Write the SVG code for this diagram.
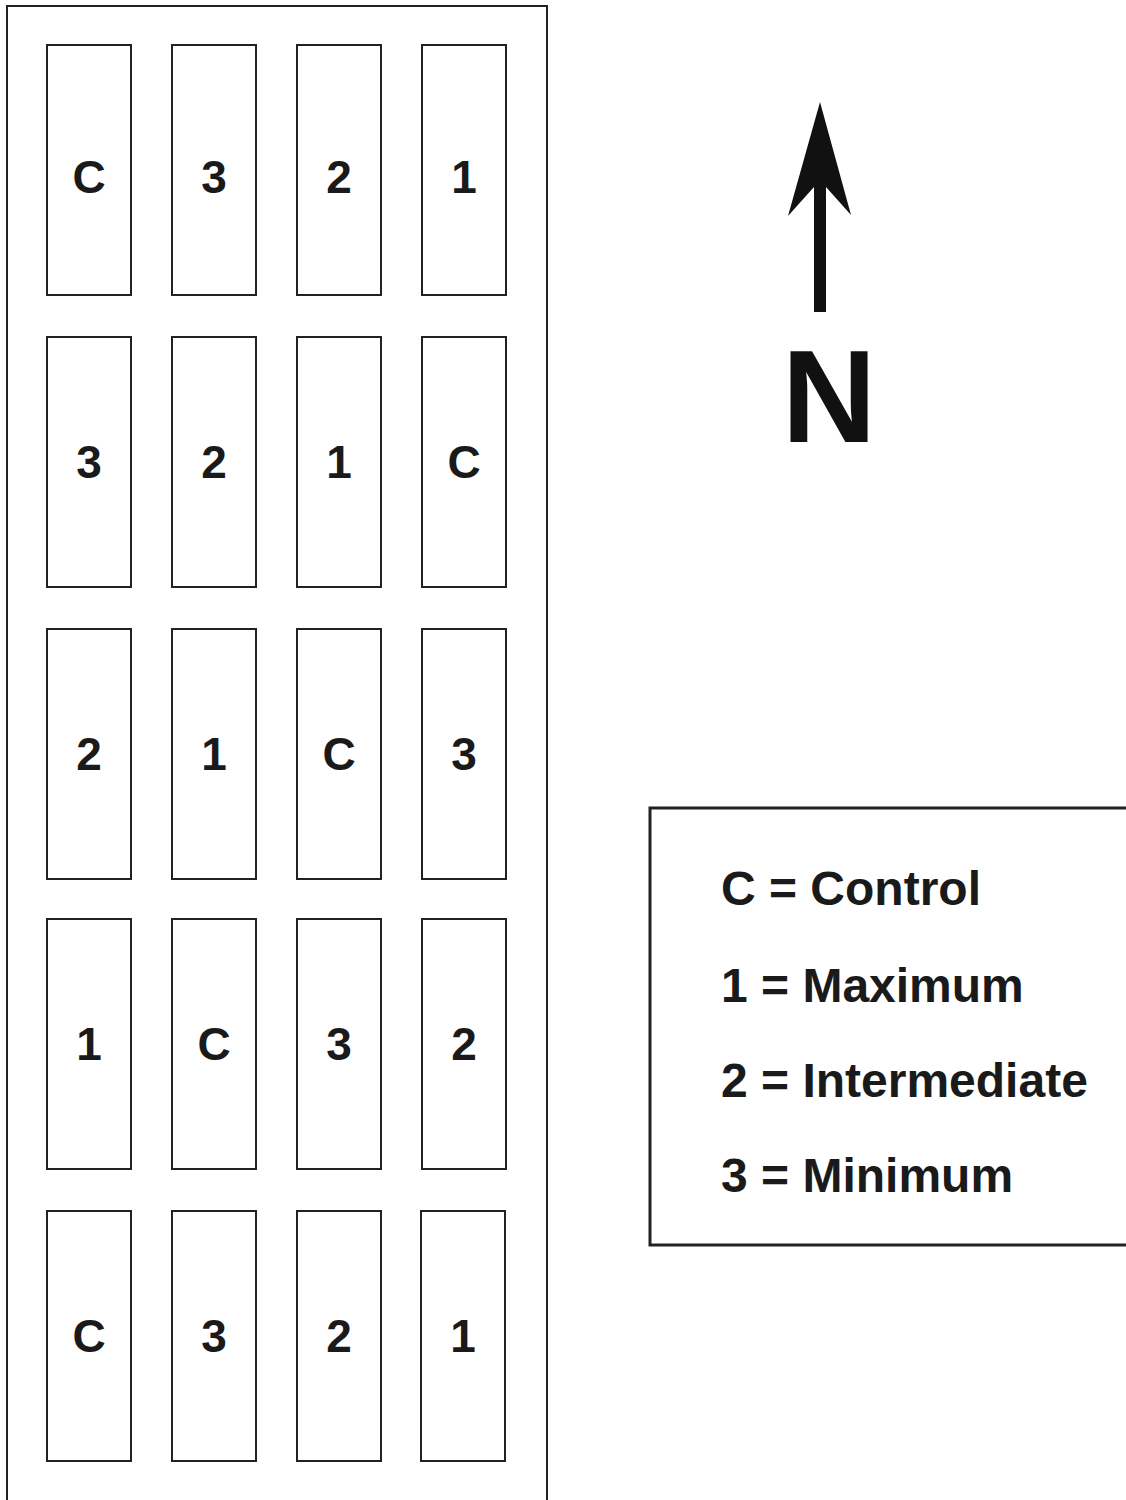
<svg xmlns="http://www.w3.org/2000/svg" width="1126" height="1500" viewBox="0 0 1126 1500">
<style>
.plot{fill:#fff;stroke:#222;stroke-width:2}
.lbl{font-family:"Liberation Sans",Arial,sans-serif;font-weight:bold;font-size:46px;fill:#1a1a1a;text-anchor:middle}
.leg{font-family:"Liberation Sans",Arial,sans-serif;font-weight:bold;font-size:48px;fill:#1a1a1a}
</style>
<rect width="1126" height="1500" fill="#fff"/>
<g id="field"><rect x="7" y="6" width="540" height="1510" fill="none" stroke="#222" stroke-width="2"/></g>
<g id="r1">
<g id="p1-1"><rect class="plot" x="47" y="45" width="84" height="250"/><text class="lbl" x="89" y="193">C</text></g>
<g id="p1-2"><rect class="plot" x="172" y="45" width="84" height="250"/><text class="lbl" x="214" y="193">3</text></g>
<g id="p1-3"><rect class="plot" x="297" y="45" width="84" height="250"/><text class="lbl" x="339" y="193">2</text></g>
<g id="p1-4"><rect class="plot" x="422" y="45" width="84" height="250"/><text class="lbl" x="464" y="193">1</text></g>
</g>
<g id="r2">
<g id="p2-1"><rect class="plot" x="47" y="337" width="84" height="250"/><text class="lbl" x="89" y="478">3</text></g>
<g id="p2-2"><rect class="plot" x="172" y="337" width="84" height="250"/><text class="lbl" x="214" y="478">2</text></g>
<g id="p2-3"><rect class="plot" x="297" y="337" width="84" height="250"/><text class="lbl" x="339" y="478">1</text></g>
<g id="p2-4"><rect class="plot" x="422" y="337" width="84" height="250"/><text class="lbl" x="464" y="478">C</text></g>
</g>
<g id="r3">
<g id="p3-1"><rect class="plot" x="47" y="629" width="84" height="250"/><text class="lbl" x="89" y="770">2</text></g>
<g id="p3-2"><rect class="plot" x="172" y="629" width="84" height="250"/><text class="lbl" x="214" y="770">1</text></g>
<g id="p3-3"><rect class="plot" x="297" y="629" width="84" height="250"/><text class="lbl" x="339" y="770">C</text></g>
<g id="p3-4"><rect class="plot" x="422" y="629" width="84" height="250"/><text class="lbl" x="464" y="770">3</text></g>
</g>
<g id="r4">
<g id="p4-1"><rect class="plot" x="47" y="919" width="84" height="250"/><text class="lbl" x="89" y="1060">1</text></g>
<g id="p4-2"><rect class="plot" x="172" y="919" width="84" height="250"/><text class="lbl" x="214" y="1060">C</text></g>
<g id="p4-3"><rect class="plot" x="297" y="919" width="84" height="250"/><text class="lbl" x="339" y="1060">3</text></g>
<g id="p4-4"><rect class="plot" x="422" y="919" width="84" height="250"/><text class="lbl" x="464" y="1060">2</text></g>
</g>
<g id="r5">
<g id="p5-1"><rect class="plot" x="47" y="1211" width="84" height="250"/><text class="lbl" x="89" y="1352">C</text></g>
<g id="p5-2"><rect class="plot" x="172" y="1211" width="84" height="250"/><text class="lbl" x="214" y="1352">3</text></g>
<g id="p5-3"><rect class="plot" x="297" y="1211" width="84" height="250"/><text class="lbl" x="339" y="1352">2</text></g>
<g id="p5-4"><rect class="plot" x="421" y="1211" width="84" height="250"/><text class="lbl" x="463" y="1352">1</text></g>
</g>
<g id="north">
<path d="M820 102 L851 215 L826 187 L826 312 L814 312 L814 187 L788 216 Z" fill="#111"/>
<text x="829" y="442" font-family="'Liberation Sans',Arial,sans-serif" font-weight="bold" font-size="131" fill="#111" text-anchor="middle">N</text>
</g>
<g id="legend">
<rect x="650" y="808" width="490" height="437" fill="none" stroke="#222" stroke-width="3"/>
<text class="leg" x="721" y="905">C = Control</text>
<text class="leg" x="721" y="1002">1 = Maximum</text>
<text class="leg" x="721" y="1097">2 = Intermediate</text>
<text class="leg" x="721" y="1192">3 = Minimum</text>
</g>
</svg>
